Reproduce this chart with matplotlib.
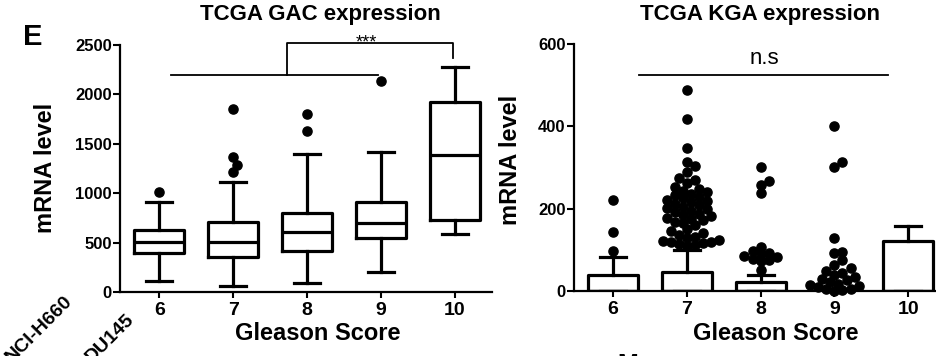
import matplotlib
matplotlib.use("Agg")
import matplotlib.pyplot as plt
import numpy as np

plt.rcParams['font.family'] = ['Liberation Sans', 'DejaVu Sans']

# ---------------- data ----------------
gleason = [6, 7, 8, 9, 10]
tick_labels = ['6', '7', '8', '9', '10']

# TCGA GAC expression (Tukey box plot statistics)
gac_whislo = [111, 61, 91, 202, 587]
gac_q1 = [391, 351, 418, 546, 729]
gac_med = [503, 509, 610, 701, 1387]
gac_q3 = [628, 711, 803, 914, 1926]
gac_whishi = [908, 1110, 1397, 1420, 2280]
gac_out = [[1009], [1218, 1285, 1363, 1849], [1633, 1802], [2135], []]

# TCGA KGA expression
kga_whislo = [0, 0, 0, 0, 0]
kga_q1 = [0, 0, 0, 0, 0]
kga_med = [0, 0, 0, 0, 0]
kga_q3 = [40, 47, 23, 0, 121]
kga_whishi = [83, 100, 39, 0, 159]
kga_out = [
    [97, 144, 221],
    [488, 419, 347, 314, 304, 290, 274, 270, 262, 253, 248, 244, 240, 236,
     232, 228, 225, 222, 218, 215, 212, 208, 205, 202, 198, 195, 192, 188,
     185, 182, 178, 175, 172, 168, 165, 160, 150, 145, 140, 136, 132, 128,
     125, 122, 120, 118, 116, 114, 112, 110],
    [302, 267, 257, 239, 108, 97, 93, 90, 86, 82, 78, 75, 72, 51],
    [401, 314, 302, 129, 95, 92, 75, 63, 55, 48, 44, 40, 35, 30, 26, 22,
     18, 15, 12, 9, 6, 4, 2, 1],
    [],
]

gac_yticks = [0, 500, 1000, 1500, 2000, 2500]
kga_yticks = [0, 200, 400, 600]

# ---------------- figure ----------------
W, H = 936, 356
fig = plt.figure(figsize=(W / 100, H / 100), dpi=100)

def px_axes(x0, x1, ytop, ybot):
    return [x0 / W, 1 - ybot / H, (x1 - x0) / W, (ybot - ytop) / H]

axL = fig.add_axes(px_axes(120, 492, 45, 292))
axR = fig.add_axes(px_axes(574, 945, 44, 291))

LW = 2.3
MS = 6.6


def style(ax, ylim, yticks):
    ax.set_xlim(5.47, 10.5)
    ax.set_ylim(*ylim)
    ax.set_yticks(yticks)
    ax.set_xticks(gleason)
    ax.set_xticklabels(tick_labels)
    for s in ['top', 'right']:
        ax.spines[s].set_visible(False)
    for s in ['left', 'bottom']:
        ax.spines[s].set_linewidth(1.6)
    ax.tick_params(axis='y', direction='out', length=5, width=1.5, pad=1,
                   labelsize=12)
    ax.tick_params(axis='x', direction='out', length=4, width=1.5, pad=3,
                   labelsize=14)
    for lab in ax.get_xticklabels() + ax.get_yticklabels():
        lab.set_fontweight('bold')
    ax.patch.set_alpha(0)


def boxes(ax, wlo, q1, med, q3, whi):
    stats = []
    for i in range(len(gleason)):
        stats.append(dict(whislo=wlo[i], q1=q1[i], med=med[i], q3=q3[i],
                          whishi=whi[i], fliers=[]))
    ax.bxp(stats, positions=gleason, widths=0.68, capwidths=0.35,
           showfliers=False, manage_ticks=False,
           boxprops=dict(color='black', linewidth=LW),
           whiskerprops=dict(color='black', linewidth=LW),
           capprops=dict(color='black', linewidth=LW),
           medianprops=dict(color='black', linewidth=LW))


def swarm_x(ax, x0, vals, diam_px=9.0, overlap=0.8):
    trans = ax.transData
    inv = trans.inverted()
    x0px = trans.transform((x0, 0))[0]
    placed = []
    out = []
    step = diam_px * 0.45
    mind = diam_px * overlap
    for v in sorted(vals):
        ypx = trans.transform((x0, v))[1]
        k = 0
        while True:
            off = 0 if k == 0 else ((k + 1) // 2) * step * (1 if k % 2 else -1)
            cand = x0px + off
            ok = all((cand - px) ** 2 + (ypx - py) ** 2 >= mind ** 2
                     for px, py in placed)
            if ok:
                break
            k += 1
        placed.append((cand, ypx))
        out.append((inv.transform((cand, ypx))[0], v))
    return out


def outliers(ax, groups):
    for x0, vals in zip(gleason, groups):
        if not vals:
            continue
        pts = swarm_x(ax, x0, vals)
        xs = [p[0] for p in pts]
        ys = [p[1] for p in pts]
        ax.plot(xs, ys, 'o', color='black', markersize=MS, zorder=5,
                clip_on=False)


style(axL, (0, 2500), gac_yticks)
style(axR, (0, 600), kga_yticks)
boxes(axL, gac_whislo, gac_q1, gac_med, gac_q3, gac_whishi)
boxes(axR, kga_whislo, kga_q1, kga_med, kga_q3, kga_whishi)
outliers(axL, gac_out)
outliers(axR, kga_out)

# significance brackets
axL.plot([6.16, 8.96], [2196, 2196], color='black', lw=1.3, clip_on=False)
axL.plot([7.73, 7.73, 9.97, 9.97], [2196, 2517, 2517, 2372], color='black',
         lw=1.3, clip_on=False)
axL.text(8.8, 2470, '***', ha='center', va='baseline', fontsize=13)
axR.plot([6.35, 9.73], [525, 525], color='black', lw=1.3, clip_on=False)
axR.text(8.05, 540, 'n.s', ha='center', va='bottom', fontsize=16)

# titles & labels
fig.text(320 / W, 1 - 20 / H, 'TCGA GAC expression', ha='center',
         va='baseline', fontsize=16, fontweight='bold')
fig.text(760 / W, 1 - 20 / H, 'TCGA KGA expression', ha='center',
         va='baseline', fontsize=16, fontweight='bold')
fig.text(318 / W, 1 - 340 / H, 'Gleason Score', ha='center', va='baseline',
         fontsize=17, fontweight='bold')
fig.text(776 / W, 1 - 340 / H, 'Gleason Score', ha='center', va='baseline',
         fontsize=17, fontweight='bold')
fig.text(45 / W, 1 - 168 / H, 'mRNA level', ha='center', va='center',
         rotation=90, fontsize=17, fontweight='bold')
fig.text(511 / W, 1 - 160 / H, 'mRNA level', ha='center', va='center',
         rotation=90, fontsize=17, fontweight='bold')
fig.text(23 / W, 1 - 45 / H, 'E', ha='left', va='baseline', fontsize=21,
         fontweight='bold')

# fragments of neighbouring panels (cut by the figure edge, as in the source)
fig.text(73 / W, 1 - 302 / H, 'NCI-H660', ha='right', va='baseline',
         rotation=45, rotation_mode='anchor', fontsize=14, fontweight='bold')
fig.text(135 / W, 1 - 320 / H, 'DU145', ha='right', va='baseline',
         rotation=45, rotation_mode='anchor', fontsize=14, fontweight='bold')
fig.text(617 / W, 1 - 353 / H, 'M', ha='left', va='top', fontsize=18,
         fontweight='bold')

fig.savefig('out.png', dpi=100)
